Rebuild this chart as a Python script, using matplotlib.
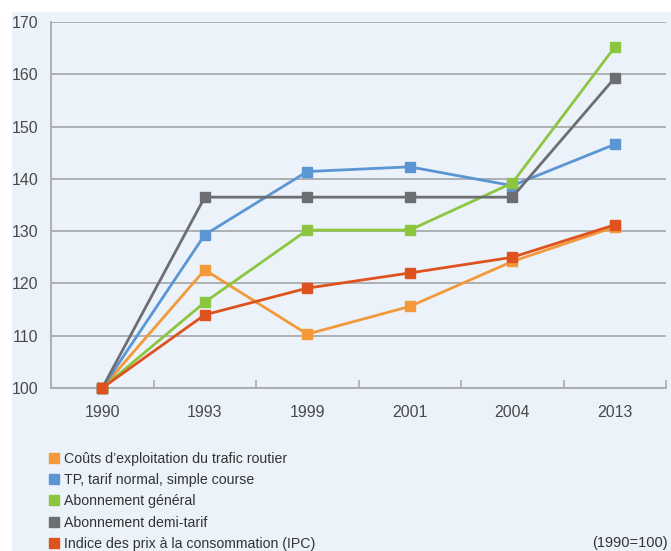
import matplotlib.pyplot as plt
from matplotlib.lines import Line2D
from matplotlib.patches import Rectangle

plt.rcParams['font.family'] = ['Liberation Sans Narrow', 'Liberation Sans', 'DejaVu Sans']

years = ['1990', '1993', '1999', '2001', '2004', '2013']
couts = [100, 122.6, 110.3, 115.6, 124.2, 130.8]
tp_normal = [100, 129.3, 141.4, 142.3, 138.7, 146.6]
abo_general = [100, 116.4, 130.2, 130.2, 139.2, 165.2]
abo_demi = [100, 136.5, 136.5, 136.5, 136.5, 159.3]
ipc = [100, 114.0, 119.1, 122.0, 125.0, 131.2]

series = [
    ("Coûts d’exploitation du trafic routier", couts, '#F4993A'),
    ("TP, tarif normal, simple course", tp_normal, '#5B96D3'),
    ("Abonnement général", abo_general, '#8CC63F'),
    ("Abonnement demi-tarif", abo_demi, '#6D6E71'),
    ("Indice des prix à la consommation (IPC)", ipc, '#DE521D'),
]

bg = '#EBF2FA'
grid_c = '#A9ABAE'

fig = plt.figure(figsize=(6.71, 5.51), dpi=100)
fig.patch.set_facecolor('white')
fig.add_artist(Rectangle((12 / 671, 0), 1, 1 - 12 / 551, transform=fig.transFigure,
                         facecolor=bg, edgecolor='none', zorder=0))

ax = fig.add_axes([51 / 671, 1 - 388 / 551, (666 - 51) / 671, (388 - 22) / 551])
ax.set_facecolor(bg)

x = list(range(len(years)))
for label, vals, col in series:
    ax.plot(x, vals, color=col, lw=2.0, marker='s', markersize=6.5,
            markeredgecolor=col, label=label, zorder=3, clip_on=False)

ax.set_xlim(-0.5, len(years) - 0.5)
ax.set_ylim(100, 170)
ax.set_yticks(range(100, 171, 10))
ax.yaxis.grid(True, color=grid_c, lw=1.3)
ax.set_axisbelow(True)

ax.set_xticks(x)
ax.set_xticklabels(years)
ax.set_xticks([i + 0.5 for i in range(len(years))], minor=True)
ax.tick_params(axis='x', which='major', length=0, pad=12, labelsize=11.5, colors='#4a4a4a')
ax.tick_params(axis='x', which='minor', length=6, direction='in', color=grid_c, width=1.2)
ax.tick_params(axis='y', length=0, pad=9, labelsize=11.5, colors='#4a4a4a')

for s in ['top', 'right']:
    ax.spines[s].set_visible(False)
for s in ['left', 'bottom']:
    ax.spines[s].set_color(grid_c)
    ax.spines[s].set_linewidth(1.3)

handles = [Line2D([], [], ls='none', marker='s', markersize=7, color=c, markeredgecolor=c)
           for _, _, c in series]
leg = fig.legend(handles, [s[0] for s in series], loc='upper left',
                 bbox_to_anchor=(44 / 671, 1 - 446 / 551), frameon=False,
                 fontsize=10.2, handlelength=0.6, handletextpad=0.4,
                 labelspacing=0.52, borderaxespad=0)
for t in leg.get_texts():
    t.set_color('#333333')

fig.text(668 / 671, 1 - 543 / 551, '(1990=100)', ha='right', va='center',
         fontsize=10.5, color='#333333')

fig.savefig('out.png', dpi=100)
